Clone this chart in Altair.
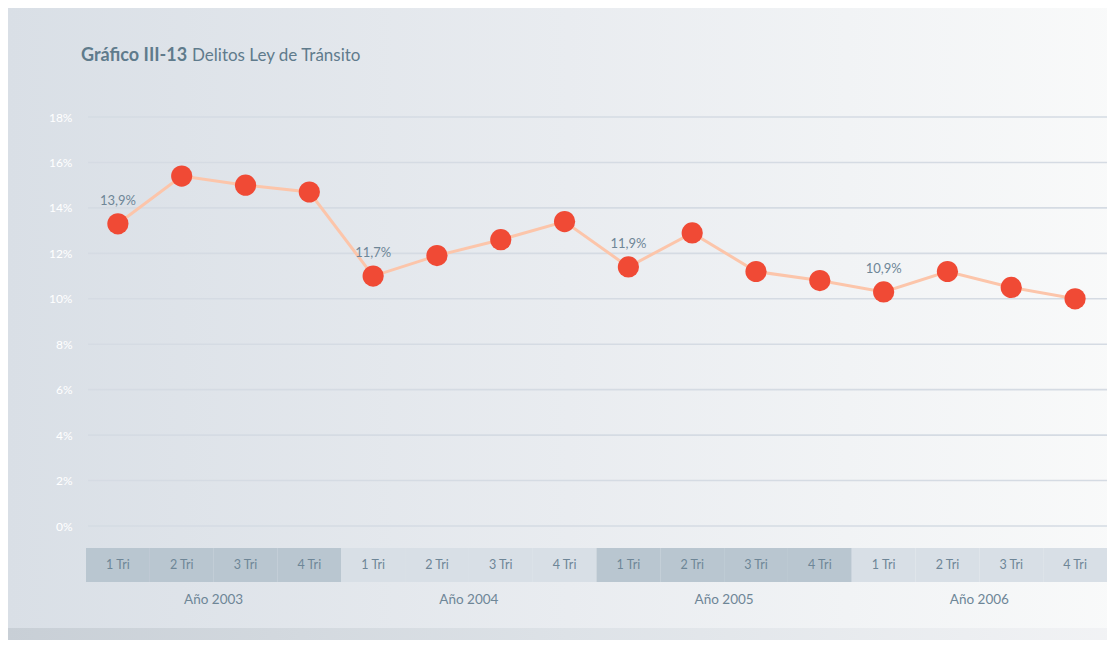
import altair as alt
import pandas as pd

# ---- data ----
quarters = ["1 Tri", "2 Tri", "3 Tri", "4 Tri"] * 4
years = ["Año 2003", "Año 2004", "Año 2005", "Año 2006"]
values = [13.3, 15.4, 15.0, 14.7,
          11.0, 11.9, 12.6, 13.4,
          11.4, 12.9, 11.2, 10.8,
          10.3, 11.2, 10.5, 10.0]
annot_idx = [0, 4, 8, 12]
annot_text = ["13,9%", "11,7%", "11,9%", "10,9%"]
y_ticks = [0, 2, 4, 6, 8, 10, 12, 14, 16, 18]

FONT = "Lato"
W, H = 1021, 409

df = pd.DataFrame({
    "idx": list(range(16)),
    "q": quarters,
    "val": values,
    "year": [years[i // 4] for i in range(16)],
    "shade": ["dark" if (i // 4) % 2 == 0 else "light" for i in range(16)],
})
df["x0"] = df["idx"] - 0.5
df["x1"] = df["idx"] + 0.5

ann = pd.DataFrame({"idx": annot_idx, "txt": annot_text,
                    "val": [values[i] for i in annot_idx]})
yr = pd.DataFrame({"pos": [1.5, 5.5, 9.5, 13.5], "year": years})

xscale = alt.Scale(domain=[-0.5, 15.5], nice=False, zero=False)
yscale = alt.Scale(domain=[0, 18], nice=False)

bg = alt.Chart(pd.DataFrame({"a": [0]})).mark_rect(
    color=alt.LinearGradient(
        gradient="linear", x1=0, x2=1, y1=0, y2=0,
        stops=[alt.GradientStop(color="#d9dfe6", offset=0),
               alt.GradientStop(color="#e9ecf0", offset=0.5),
               alt.GradientStop(color="#f9fafa", offset=1)])
).encode(x=alt.value(-79), x2=alt.value(W + 20), y=alt.value(-110), y2=alt.value(511))

strip = alt.Chart(pd.DataFrame({"a": [0]})).mark_rect(
    color=alt.LinearGradient(
        gradient="linear", x1=0, x2=1, y1=0, y2=0,
        stops=[alt.GradientStop(color="#c8cfd6", offset=0),
               alt.GradientStop(color="#dde2e7", offset=0.5),
               alt.GradientStop(color="#f2f3f5", offset=1)])
).encode(x=alt.value(-79), x2=alt.value(W + 20), y=alt.value(511), y2=alt.value(540))

base = alt.Chart(df)

grid = alt.Chart(pd.DataFrame({"t": y_ticks})).mark_rule(
    color="#d5dbe3", strokeWidth=1.6
).encode(
    y=alt.Y("t:Q", scale=yscale, axis=alt.Axis(
        values=y_ticks, domain=False, ticks=False, grid=False, zindex=1,
        labelColor="#ffffff", labelFont=FONT, labelFontSize=12,
        labelPadding=14, labelExpr="datum.value + '%'", title=None)),
    x=alt.value(2), x2=alt.value(W),
)

bands = base.mark_rect().encode(
    x=alt.X("x0:Q", scale=xscale, axis=None),
    x2="x1:Q",
    y=alt.value(431), y2=alt.value(465),
    color=alt.Color("shade:N", scale=alt.Scale(domain=["dark", "light"],
                                               range=["#b9c6d0", "#d8dfe6"]), legend=None),
)

qlabels = base.mark_text(font=FONT, fontSize=12.5, color="#6e8697", baseline="middle").encode(
    x=alt.X("idx:Q", scale=xscale), y=alt.value(448), text="q:N")

ylabels = alt.Chart(yr).mark_text(font=FONT, fontSize=13.5, color="#6e8697", baseline="middle").encode(
    x=alt.X("pos:Q", scale=xscale), y=alt.value(483), text="year:N")

line = base.mark_line(color="#fcc5aa", strokeWidth=3).encode(
    x=alt.X("idx:Q", scale=xscale), y=alt.Y("val:Q", scale=yscale))

pts = base.mark_circle(color="#f04a35", opacity=1, size=450).encode(
    x=alt.X("idx:Q", scale=xscale), y=alt.Y("val:Q", scale=yscale))

anns = alt.Chart(ann).mark_text(font=FONT, fontSize=13, color="#6e8697", dy=-23).encode(
    x=alt.X("idx:Q", scale=xscale), y=alt.Y("val:Q", scale=yscale), text="txt:N")

title1 = alt.Chart(pd.DataFrame({"t": ["Gráfico III-13"]})).mark_text(
    font=FONT, fontSize=18, fontWeight="bold", color="#5f7b8c", align="left", baseline="alphabetic"
).encode(x=alt.value(-5), y=alt.value(-56), text="t:N")

title2 = alt.Chart(pd.DataFrame({"t": ["Delitos Ley de Tránsito"]})).mark_text(
    font=FONT, fontSize=17, color="#5f7b8c", align="left", baseline="alphabetic"
).encode(x=alt.value(106), y=alt.value(-56), text="t:N")

chart = alt.layer(bg, strip, grid, bands, qlabels, ylabels, line, pts, anns, title1, title2).properties(
    width=W, height=H,
    autosize=alt.AutoSizeParams(type="none"),
    padding={"left": 78, "top": 109, "right": 0, "bottom": 114},
    background="#ffffff",
).configure_view(stroke=None)

chart.save("out.html", embed_options={"renderer": "svg", "actions": False})
